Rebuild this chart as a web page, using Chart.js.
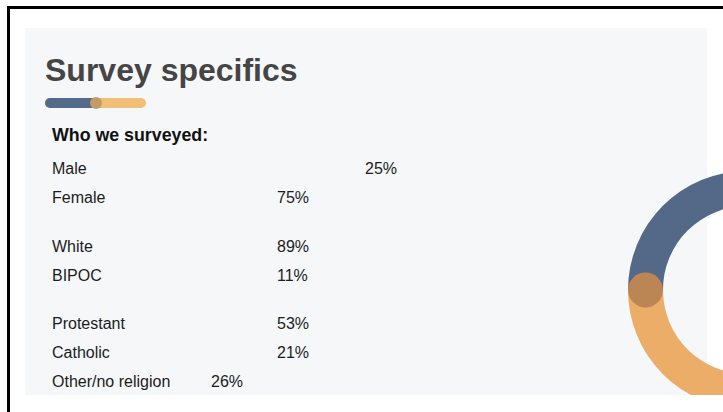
<!DOCTYPE html>
<html>
<head>
<meta charset="utf-8">
<script src="https://cdn.jsdelivr.net/npm/chart.js@4/dist/chart.umd.min.js"></script>
<style>
  html, body { margin: 0; padding: 0; background: #ffffff; }
  body { width: 723px; height: 412px; overflow: hidden; position: relative;
         font-family: "Liberation Sans", Arial, Helvetica, sans-serif; }
  #frame { position: absolute; left: 7px; top: 6px; width: 900px; height: 600px;
           border: 3px solid #000; box-sizing: border-box; }
  #panel { position: absolute; left: 25px; top: 28px; width: 682px; height: 367px;
           background: #f5f7f9; }
  .txt { position: absolute; white-space: nowrap; color: #1c1c1c; }
  #title { color: #454545; font-weight: bold; }
  #underline { position: absolute; left: 45px; top: 98px; width: 101px; height: 10px;
               border-radius: 5px; overflow: hidden; background: #f2bf77; }
  #underline .fill { position: absolute; left: 0; top: 0; height: 10px; width: 50px; background: #536a8a; }
  #underline-dot { position: absolute; left: 90px; top: 97px; width: 12px; height: 12px;
                   border-radius: 50%; background: #c59b63; }
  #ringBox { position: absolute; left: 617px; top: 160px; width: 260px; height: 235px; overflow: hidden; }
  #ring { display: block; }
</style>
</head>
<body>
<div id="frame"></div>
<div id="panel"></div>
<div id="underline"><div class="fill"></div></div>
<div id="underline-dot"></div>
<div id="ringBox"><canvas id="ring" width="260" height="260"></canvas></div>

<script>
// Survey composition
const genderLabels = ['Male', 'Female'];
const genderShares = [25, 75];
const raceLabels = ['White', 'BIPOC'];
const raceShares = [89, 11];
const religionLabels = ['Protestant', 'Catholic', 'Other/no religion'];
const religionShares = [53, 21, 26];

const titleText = 'Survey specifics';
const headingText = 'Who we surveyed:';

// Layout of the text block
const groups = [
  { labels: genderLabels, shares: genderShares, valueX: [365, 277] },
  { labels: raceLabels, shares: raceShares, valueX: [277, 277] },
  { labels: religionLabels, shares: religionShares, valueX: [277, 277, 211] }
];
const labelX = 52;
const firstBaseline = 174.3;
const rowPitch = 29;
const groupPitch = 77.5;

function placeText(text, x, baseline, size, id) {
  const el = document.createElement('div');
  el.className = 'txt';
  if (id) el.id = id;
  el.textContent = text;
  el.style.fontSize = size + 'px';
  el.style.lineHeight = (size * 1.2) + 'px';
  el.style.left = x + 'px';
  el.style.top = (baseline - 0.9465 * size) + 'px';
  document.body.appendChild(el);
  return el;
}

placeText(titleText, 45, 81, 32, 'title');
const heading = placeText(headingText, 52, 142, 17.8);
heading.style.fontWeight = 'bold';
heading.style.color = '#111';

groups.forEach((g, gi) => {
  g.labels.forEach((lab, ri) => {
    const base = firstBaseline + gi * groupPitch + ri * rowPitch;
    placeText(lab, labelX, base, 16);
    placeText(g.shares[ri] + '%', g.valueX[ri], base, 16);
  });
});

// Marker dot where the ring's first segment begins
const startDot = {
  id: 'startDot',
  afterDatasetsDraw(chart) {
    const arc = chart.getDatasetMeta(0).data[0];
    if (!arc) return;
    const p = arc.getProps(['x', 'y', 'startAngle', 'innerRadius', 'outerRadius'], true);
    const mid = (p.innerRadius + p.outerRadius) / 2;
    const r = (p.outerRadius - p.innerRadius) / 2;
    const ctx = chart.ctx;
    ctx.save();
    ctx.fillStyle = '#bc8654';
    ctx.beginPath();
    ctx.arc(p.x + Math.cos(p.startAngle) * mid, p.y + Math.sin(p.startAngle) * mid, r, 0, Math.PI * 2);
    ctx.fill();
    ctx.restore();
  }
};

new Chart(document.getElementById('ring'), {
  type: 'doughnut',
  data: {
    labels: genderLabels,
    datasets: [{
      data: genderShares,
      backgroundColor: ['#546987', '#ecad69'],
      borderWidth: 0
    }]
  },
  options: {
    responsive: false,
    animation: false,
    rotation: -90,
    radius: 119,
    cutout: '70.6%',
    layout: { padding: 0 },
    plugins: { legend: { display: false }, tooltip: { enabled: false } }
  },
  plugins: [startDot]
});
</script>
</body>
</html>
